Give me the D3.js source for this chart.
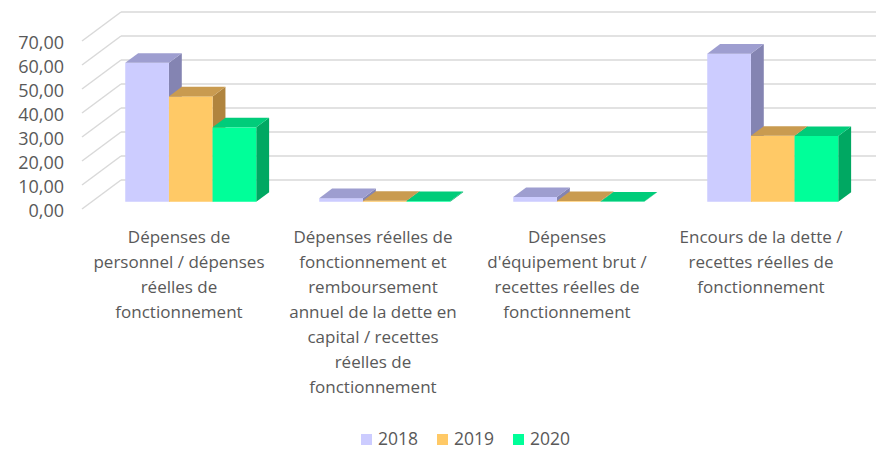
<!DOCTYPE html>
<html>
<head>
<meta charset="utf-8">
<script src="https://cdn.jsdelivr.net/npm/d3@7"></script>
<style>
  body { margin: 0; background: #fff; }
  svg { display: block; font-family: "Open Sans", sans-serif; }
</style>
</head>
<body>
<svg id="chart" width="876" height="450"></svg>
<script>
// values
var categories = ["personnel", "fonctionnement", "equipement", "encours"];
var categoryLines = [
    ["Dépenses de", "personnel / dépenses", "réelles de", "fonctionnement"],
    ["Dépenses réelles de", "fonctionnement et", "remboursement", "annuel de la dette en", "capital / recettes", "réelles de", "fonctionnement"],
    ["Dépenses", "d'équipement brut /", "recettes réelles de", "fonctionnement"],
    ["Encours de la dette /", "recettes réelles de", "fonctionnement"]
];
var years = ["2018", "2019", "2020"];
var values2018 = [57.9, 1.5, 2.0, 61.7];
var values2019 = [43.9, 0.4, 0.3, 27.5];
var values2020 = [31.0, 0.3, 0.1, 27.4];
var yTicks = [0, 10, 20, 30, 40, 50, 60, 70];

var series = [values2018, values2019, values2020];

var dims = {
    width: 876,
    height: 450,
    left: 82,
    right: 858,
    top: 41,
    bottom: 209
}
// depth of the 3d box and where bars sit inside it
var DX = 39, DY = -29;
var f0 = 0.25, f1 = 0.58;

var colors = {
    "2018": { front: "#ccccff", top: "#9e9ed0", side: "#8484b2" },
    "2019": { front: "#ffc966", top: "#c99b50", side: "#b0843e" },
    "2020": { front: "#00ff99", top: "#00cc7a", side: "#00a862" }
}

var svg = d3.select("#chart");

var yScale = d3.scaleLinear()
    .domain([0, 70])
    .range([dims.bottom, dims.top])

var x0 = d3.scaleBand()
    .domain(categories)
    .range([dims.left, dims.right])

var groupW = 131;
var x1 = d3.scaleBand()
    .domain(years)
    .range([0, groupW])

// back wall + left wall gridlines
var grid = svg.append("g")
grid.selectAll("line.back")
    .data(yTicks)
    .enter()
    .append("line")
    .attr("x1", dims.left + DX)
    .attr("x2", dims.width)
    .attr("y1", d => yScale(d) + DY)
    .attr("y2", d => yScale(d) + DY)
    .attr("stroke", "#d9d9d9")
    .attr("stroke-width", 1.5)
grid.selectAll("line.side")
    .data(yTicks)
    .enter()
    .append("line")
    .attr("x1", dims.left)
    .attr("x2", dims.left + DX)
    .attr("y1", d => yScale(d))
    .attr("y2", d => yScale(d) + DY)
    .attr("stroke", "#d9d9d9")
    .attr("stroke-width", 1.5)

// y axis labels
var yAxis = svg.append("g")
    .attr("transform", `translate(${dims.left - 18},2)`)
    .call(d3.axisLeft(yScale)
        .tickValues(yTicks)
        .tickSize(0)
        .tickFormat(d => d3.format(".2f")(d).replace(".", ",")))
yAxis.select(".domain").remove()
yAxis.selectAll("text")
    .attr("x", 0)
    .style("font-family", "Open Sans")
    .style("font-size", "18px")
    .attr("fill", "#595959")

// bars
var offset = (x0.bandwidth() - groupW) / 2 + 2;
var ddx = (f1 - f0) * DX, ddy = (f1 - f0) * DY;
var bars = svg.append("g")
categories.forEach(function (c, i) {
    years.forEach(function (yr, j) {
        var v = series[j][i];
        var xl = x0(c) + offset + x1(yr) + f0 * DX;
        var w = x1.bandwidth();
        var yb = yScale(0) + f0 * DY;
        var yt = yScale(v) + f0 * DY;
        var col = colors[yr];
        var g = bars.append("g");
        g.append("polygon")
            .attr("points", [[xl + w, yt], [xl + w + ddx, yt + ddy], [xl + w + ddx, yb + ddy], [xl + w, yb]].join(" "))
            .attr("fill", col.side)
        g.append("rect")
            .attr("x", xl)
            .attr("y", yt)
            .attr("width", w)
            .attr("height", yb - yt)
            .attr("fill", col.front)
        g.append("polygon")
            .attr("points", [[xl, yt], [xl + w, yt], [xl + w + ddx, yt + ddy], [xl + ddx, yt + ddy]].join(" "))
            .attr("fill", col.top)
    })
})

// category labels
var labels = svg.append("g")
categories.forEach(function (c, i) {
    var t = labels.append("text")
        .attr("x", x0(c) + x0.bandwidth() / 2)
        .attr("y", 243)
        .style("text-anchor", "middle")
        .style("font-size", "17px")
        .attr("fill", "#595959")
    categoryLines[i].forEach(function (line, k) {
        t.append("tspan")
            .attr("x", x0(c) + x0.bandwidth() / 2)
            .attr("dy", k == 0 ? 0 : 25)
            .text(line)
    })
})

// legend
var legend = svg.append("g")
    .selectAll("g")
    .data(years)
    .enter()
    .append("g")
    .attr("transform", (d, i) => `translate(${361 + i * 76},434)`)
legend.append("rect")
    .attr("width", 11)
    .attr("height", 11)
    .attr("fill", d => colors[d].front)
legend.append("text")
    .attr("x", 17)
    .attr("y", 11)
    .style("font-size", "17.5px")
    .attr("fill", "#595959")
    .text(d => d)
</script>
</body>
</html>
